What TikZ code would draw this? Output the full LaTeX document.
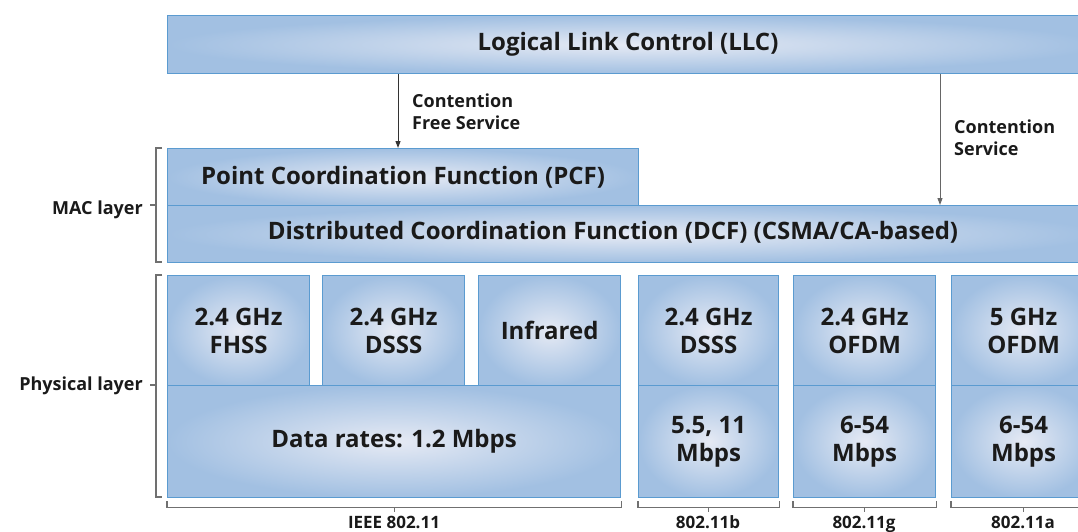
\documentclass[tikz,border=0pt]{standalone}
\usepackage{fontspec}
\setmainfont{Open Sans}
\usetikzlibrary{arrows.meta}
\definecolor{boxline}{HTML}{5B9BD0}
\definecolor{boxout}{HTML}{A2C0E2}
\definecolor{boxin}{HTML}{E6EAF4}
\definecolor{brk}{HTML}{707070}
\definecolor{txt}{HTML}{1A1A1A}
\tikzset{
  box/.style={draw=boxline, line width=1.2pt, inner color=boxin, outer color=boxout,
    anchor=north west, inner sep=0pt, text=txt, align=center,
    font=\fontsize{24}{28}\selectfont\bfseries},
  bigtext/.style={text=txt, font=\fontsize{24}{28}\selectfont\bfseries},
  smalltext/.style={text=txt, font=\fontsize{18}{22}\selectfont\bfseries, align=left, inner sep=0pt},
  brace/.style={draw=brk, line width=1.1pt},
  arr/.style={draw=black!80, line width=1pt, -{Triangle[length=7pt,width=5pt]}},
}
\begin{document}
\begin{tikzpicture}[x=1pt,y=-1pt]
\useasboundingbox (0,0) rectangle (1078,532);
% LLC
\node[box, minimum width=930, minimum height=58] (llc) at (167,15) {};
\node[bigtext] (llct) at (628,44) {Logical Link Control (LLC)};
% MAC
\node[box, minimum width=471, minimum height=57] (pcf) at (167,148) {Point Coordination Function (PCF)};
\node[box, minimum width=930, minimum height=57] (dcf) at (167,205) {};
\node[bigtext] (dcft) at (613,232) {Distributed Coordination Function (DCF) (CSMA/CA-based)};
% arrows
\coordinate (a1) at (398,0);
\coordinate (a2) at (940,0);
\draw[arr] (llc.south -| a1) -- (pcf.north -| a1);
\draw[arr, draw=black!60] (llc.south -| a2) -- (dcf.north -| a2);
\node[smalltext, anchor=base west] (cfs) at (412,130) {Contention\\Free Service};
\node[smalltext, anchor=base west] (cs) at (954,155) {Contention\\Service};
% PHY
\node[box, minimum width=142, minimum height=110] (fhss) at (167,275) {2.4 GHz\\FHSS};
\node[box, minimum width=142, minimum height=110] (dsss) at (322,275) {2.4 GHz\\DSSS};
\node[box, minimum width=142, minimum height=110] (ir) at (478,275) {Infrared};
\node[box, minimum width=453, minimum height=112] (rate) at (167,385) {Data rates: 1.2 Mbps};
\node[box, minimum width=140, minimum height=110] (bu) at (638,275) {2.4 GHz\\DSSS};
\node[box, minimum width=140, minimum height=112] (bl) at (638,385) {5.5, 11\\Mbps};
\node[box, minimum width=142, minimum height=110] (gu) at (793,275) {2.4 GHz\\OFDM};
\node[box, minimum width=142, minimum height=112] (gl) at (793,385) {6-54\\Mbps};
\node[box, minimum width=144, minimum height=110] (au) at (951,275) {5 GHz\\OFDM};
\node[box, minimum width=144, minimum height=112] (al) at (951,385) {6-54\\Mbps};
% side brackets
\draw[brace] (162,148) -- (156,148) -- (156,262) -- (162,262);
\draw[brace] (156,205) -- (150,205);
\node[smalltext, anchor=base east] (mac) at (143,214) {MAC layer};
\draw[brace] (162,275) -- (156,275) -- (156,497) -- (162,497);
\draw[brace] (156,385) -- (150,385);
\node[smalltext, anchor=base east] (phy) at (143,390) {Physical layer};
% bottom brackets
\foreach \b in {rate,bl,gl,al}{
  \draw[brace] ([yshift=-3pt]\b.south west) -- ([yshift=-9pt]\b.south west)
     -- ([yshift=-9pt]\b.south east) -- ([yshift=-3pt]\b.south east);
  \draw[brace] ([yshift=-9pt]\b.south) -- ([yshift=-14pt]\b.south);
}
\node[smalltext, font=\fontsize{17}{20}\selectfont\bfseries, anchor=base] (l1) at (394,528) {IEEE 802.11};
\node[smalltext, font=\fontsize{17}{20}\selectfont\bfseries, anchor=base] (l2) at (708,528) {802.11b};
\node[smalltext, font=\fontsize{17}{20}\selectfont\bfseries, anchor=base] (l3) at (864,528) {802.11g};
\node[smalltext, font=\fontsize{17}{20}\selectfont\bfseries, anchor=base] (l4) at (1023,528) {802.11a};
\end{tikzpicture}
\end{document}
